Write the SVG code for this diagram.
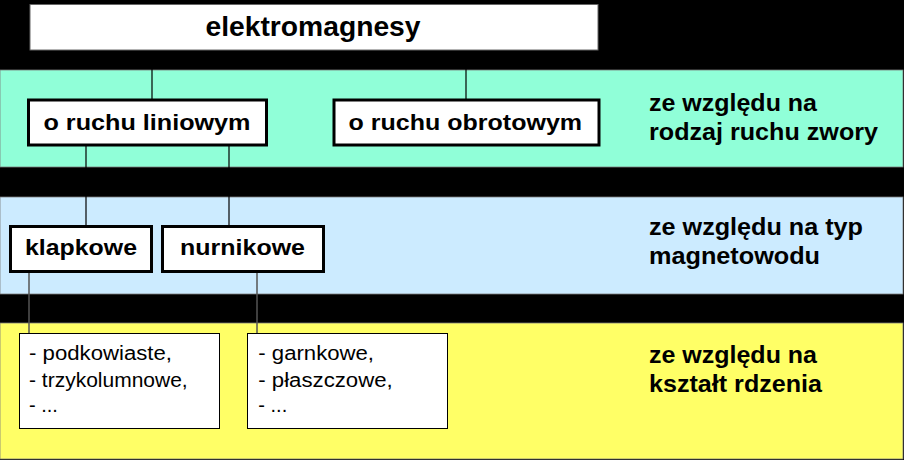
<svg xmlns="http://www.w3.org/2000/svg" width="904" height="460" viewBox="0 0 904 460">
<style>
.band{stroke:#7a7a7a;stroke-width:0.8}
.hdr{fill:#fff;stroke:#666;stroke-width:1}
.cat{fill:#fff;stroke:#000;stroke-width:3}
.lst{fill:#fff;stroke:#000;stroke-width:1}
.b{font-family:"Liberation Sans",Arial,sans-serif;font-weight:bold;fill:#000}
.r{font-family:"Liberation Sans",Arial,sans-serif;fill:#000;font-size:20px}
.con{stroke:#000;stroke-width:1.2;fill:none}
.con2{stroke:#555;stroke-width:1.5;fill:none}
</style>
<rect x="0" y="0" width="904" height="460" fill="#000"/>
<g id="bands">
<rect class="band" x="0" y="70" width="903" height="97" fill="#90FFD8"/>
<rect class="band" x="0" y="197" width="903" height="97" fill="#CCEBFF"/>
<rect class="band" x="0" y="323" width="903" height="136" fill="#FFFF66"/>
</g>
<g id="connectors">
<line class="con" x1="152" y1="50" x2="152" y2="99"/>
<line class="con" x1="466" y1="50" x2="466" y2="99"/>
<line class="con" x1="86" y1="146" x2="86" y2="225"/>
<line class="con" x1="229" y1="146" x2="229" y2="225"/>
<line class="con2" x1="29" y1="273" x2="29" y2="410"/>
<line class="con2" x1="257" y1="273" x2="257" y2="410"/>
</g>
<g id="root">
<rect class="hdr" x="30" y="4.5" width="568" height="45.5"/>
<text class="b" x="205.5" y="36" font-size="27" textLength="215" lengthAdjust="spacingAndGlyphs">elektromagnesy</text>
</g>
<g id="liniowy">
<rect class="cat" x="28.5" y="100" width="238" height="45"/>
<text class="b" x="43.5" y="129.5" font-size="22" textLength="207" lengthAdjust="spacingAndGlyphs">o ruchu liniowym</text>
</g>
<g id="obrotowy">
<rect class="cat" x="334" y="100" width="265" height="45"/>
<text class="b" x="348.6" y="129.5" font-size="22" textLength="233.5" lengthAdjust="spacingAndGlyphs">o ruchu obrotowym</text>
</g>
<g id="klapkowe">
<rect class="cat" x="10.5" y="226.5" width="141" height="45"/>
<text class="b" x="25" y="255" font-size="22" textLength="112" lengthAdjust="spacingAndGlyphs">klapkowe</text>
</g>
<g id="nurnikowe">
<rect class="cat" x="162.5" y="226.5" width="161" height="45"/>
<text class="b" x="180" y="255" font-size="22" textLength="125" lengthAdjust="spacingAndGlyphs">nurnikowe</text>
</g>
<g id="lista-klapkowe">
<rect class="lst" x="19.5" y="333.5" width="200" height="95"/>
<text class="r" x="29" y="360" textLength="143" lengthAdjust="spacingAndGlyphs">- podkowiaste,</text>
<text class="r" x="29" y="386.5" textLength="158.7" lengthAdjust="spacingAndGlyphs">- trzykolumnowe,</text>
<text class="r" x="29" y="411.5">- ...</text>
</g>
<g id="lista-nurnikowe">
<rect class="lst" x="247.5" y="333.5" width="200" height="95"/>
<text class="r" x="258.3" y="360" textLength="115.7" lengthAdjust="spacingAndGlyphs">- garnkowe,</text>
<text class="r" x="258.3" y="386.5" textLength="134.4" lengthAdjust="spacingAndGlyphs">- płaszczowe,</text>
<text class="r" x="258.3" y="411.5">- ...</text>
</g>
<g id="opis-ruch">
<text class="b" x="649" y="110.7" font-size="24" textLength="168" lengthAdjust="spacingAndGlyphs">ze względu na</text>
<text class="b" x="649" y="140" font-size="24" textLength="229" lengthAdjust="spacingAndGlyphs">rodzaj ruchu zwory</text>
</g>
<g id="opis-typ">
<text class="b" x="649" y="235" font-size="24" textLength="214" lengthAdjust="spacingAndGlyphs">ze względu na typ</text>
<text class="b" x="649" y="264" font-size="24" textLength="171" lengthAdjust="spacingAndGlyphs">magnetowodu</text>
</g>
<g id="opis-ksztalt">
<text class="b" x="649" y="363.3" font-size="24" textLength="168" lengthAdjust="spacingAndGlyphs">ze względu na</text>
<text class="b" x="649" y="391.7" font-size="24" textLength="173" lengthAdjust="spacingAndGlyphs">kształt rdzenia</text>
</g>
</svg>
